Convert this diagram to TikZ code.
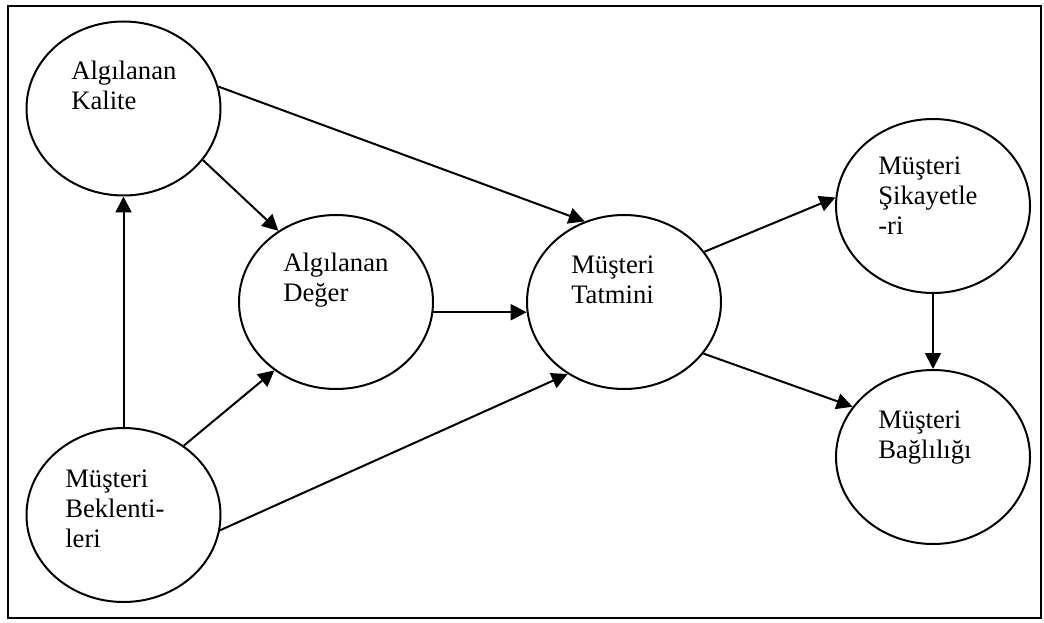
\documentclass[tikz,border=0pt]{standalone}
\usepackage{fontspec}
\setmainfont{Liberation Serif}
\usetikzlibrary{shapes.geometric,arrows.meta}
\begin{document}
\begin{tikzpicture}[x=0.75pt,y=-0.75pt,
  construct/.style={ellipse,draw,line width=1.5pt,minimum width=145.5pt,minimum height=130.5pt,inner sep=0pt},
  caption/.style={anchor=base west,inner sep=0pt,font=\fontsize{20}{22.5}\selectfont},
  link/.style={line width=1.5pt,-{Triangle[length=12pt,width=12pt]}}]
% page and outer frame
\fill[white] (0,0) rectangle (1044,623);
\useasboundingbox (0,0) rectangle (1044,623);
\draw[line width=1.6pt] (8,6) rectangle (1041,618);

% constructs
\node[construct] (kal) at (123.5,108.5) {};
\node[construct] (deg) at (336,302) {};
\node[construct] (tat) at (624,302) {};
\node[construct] (sik) at (933,206) {};
\node[construct] (bag) at (933,457) {};
\node[construct] (bek) at (123.5,515) {};

% captions, left aligned inside each ellipse
\node[caption] (kal-t) at (71,80)   {\vtop{\hbox{Algılanan}\hbox{Kalite}}};
\node[caption] (deg-t) at (283,272) {\vtop{\hbox{Algılanan}\hbox{Değer}}};
\node[caption] (tat-t) at (571,273) {\vtop{\hbox{Müşteri}\hbox{Tatmini}}};
\node[caption] (sik-t) at (878,175) {\vtop{\hbox{Müşteri}\hbox{Şikayetle}\hbox{-ri}}};
\node[caption] (bag-t) at (878,428) {\vtop{\hbox{Müşteri}\hbox{Bağlılığı}}};
\node[caption] (bek-t) at (65,487)  {\vtop{\hbox{Müşteri}\hbox{Beklenti-}\hbox{leri}}};

% relations
\draw[link] (bek.north) -- (kal.south);
\draw[link] (bek.49) -- (deg.228);
\draw[link] (bek.-9) -- (tat.232);
\draw[link] (kal.-33) -- (deg.129);
\draw[link] (kal.13) -- (tat.116);
\draw[link] (deg.-6) -- (tat.186);
\draw[link] (tat.32) -- (sik.175);
\draw[link] (tat.-33) -- (bag.148);
\draw[link] (sik.south) -- (bag.north);
\end{tikzpicture}
\end{document}
